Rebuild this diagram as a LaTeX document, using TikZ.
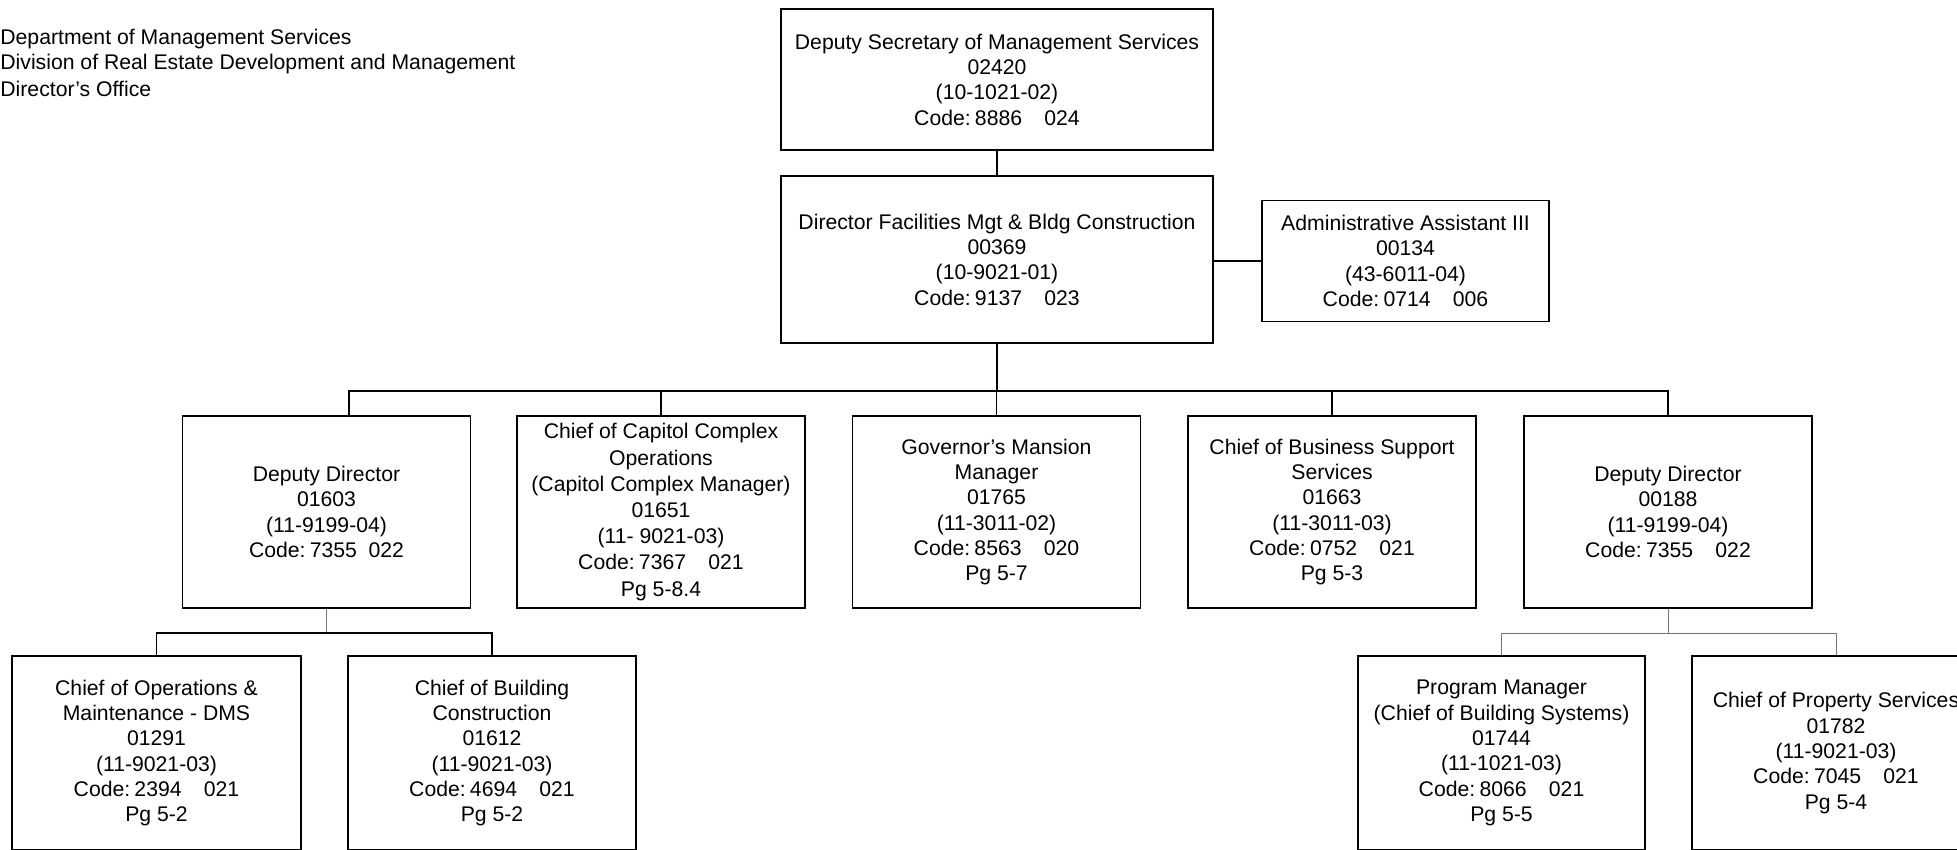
\documentclass[tikz,border=0pt]{standalone}
\usepackage{fontspec}
\setmainfont{Liberation Sans}
\begin{document}
\begin{tikzpicture}[x=0.5pt,y=-0.5pt,
  box/.style 2 args={draw, line width=0.9pt, inner sep=0pt, align=center,
    minimum width=#1*0.5pt, minimum height=#2*0.5pt,
    font=\fontsize{10.6}{12.65}\selectfont},
  link/.style={line width=0.8pt},
  sublink/.style={line width=0.5pt, draw=black!55},
  hdr/.style={anchor=west, inner sep=0pt, font=\fontsize{10.6}{12.65}\selectfont}]
\useasboundingbox (0,0) rectangle (1957,850);
\clip (0,0) rectangle (1957,850);
\newcommand\gap[1][1.05em]{\hspace*{#1}}
\newcommand\code[2]{Code:\kern0.2em#1\gap#2}

% heading
\node[hdr] (h1) at (0,39) {Department of Management Services};
\node[hdr] (h2) at (0,64) {Division of Real Estate Development and Management};
\node[hdr] (h3) at (0,89) {Director’s Office};

% top levels
\node[box={432}{141}] (top) at (997,79.5)
  {Deputy Secretary of Management Services\\02420\\(10-1021-02)\\\code{8886}{024}};
\node[box={432}{167}] (dir) at (997,259.5)
  {Director Facilities Mgt \& Bldg Construction\\00369\\(10-9021-01)\\\code{9137}{023}};
\node[box={287}{121}] (admin) at (1405.5,261)
  {Administrative Assistant III\\00134\\(43-6011-04)\\\code{0714}{006}};

% second level
\node[box={288}{192}] (b1) at (326.5,512)
  {Deputy Director\\01603\\(11-9199-04)\\Code:\kern0.2em7355\gap[0.55em]022};
\node[box={288}{192}, font=\fontsize{10.6}{13.1}\selectfont] (b2) at (661,512)
  {Chief of Capitol Complex\\Operations\\(Capitol Complex Manager)\\01651\\(11- 9021-03)\\\code{7367}{021}\\Pg 5-8.4};
\node[box={288}{192}] (b3) at (996.5,512)
  {Governor’s Mansion\\Manager\\01765\\(11-3011-02)\\\code{8563}{020}\\Pg 5-7};
\node[box={288}{192}] (b4) at (1332,512)
  {Chief of Business Support\\Services\\01663\\(11-3011-03)\\\code{0752}{021}\\Pg 5-3};
\node[box={288}{192}] (b5) at (1668,512)
  {Deputy Director\\00188\\(11-9199-04)\\\code{7355}{022}};

% third level
\node[box={289}{194}] (c1) at (156.5,753)
  {Chief of Operations \&\\Maintenance - DMS\\01291\\(11-9021-03)\\\code{2394}{021}\\Pg 5-2};
\node[box={288}{194}] (c2) at (492,753)
  {Chief of Building\\Construction\\01612\\(11-9021-03)\\\code{4694}{021}\\Pg 5-2};
\node[box={287}{194}] (c3) at (1501.5,753)
  {Program Manager\\(Chief of Building Systems)\\01744\\(11-1021-03)\\\code{8066}{021}\\Pg 5-5};
\node[box={288}{194}] (c4) at (1836,753)
  {Chief of Property Services\\01782\\(11-9021-03)\\\code{7045}{021}\\Pg 5-4};

% bus levels
\coordinate (bus) at (349,391);
\coordinate (lbus) at (0,633);
\coordinate (rbus) at (0,633);

% connectors
\draw[link] (top.south) -- (dir.north);
\draw[link, line width=1pt] (admin.west) -- (admin.west -| dir.east);
\draw[link] (dir.south) -- (dir.south |- bus);
\draw[link] (bus |- b1.north) -- (bus) -- (b5.north |- bus) -- (b5.north);
\draw[link] (b2.north) -- (b2.north |- bus);
\draw[link] (b3.north) -- (b3.north |- bus);
\draw[link] (b4.north) -- (b4.north |- bus);

\draw[sublink] (b1.south) -- (b1.south |- lbus);
\draw[link] (c1.north) -- (c1.north |- lbus) -- (c2.north |- lbus) -- (c2.north);

\draw[sublink] (b5.south) -- (b5.south |- rbus);
\draw[sublink] (c3.north) -- (c3.north |- rbus) -- (c4.north |- rbus) -- (c4.north);
\end{tikzpicture}
\end{document}
